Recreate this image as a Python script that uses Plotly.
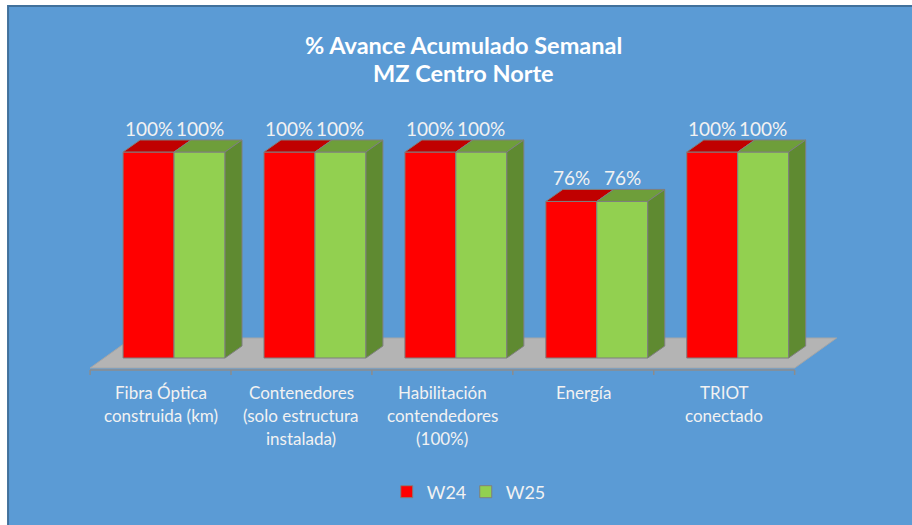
import plotly.graph_objects as go

# ---------------- data ----------------
categories = [
    "Fibra Óptica\nconstruida (km)",
    "Contenedores\n(solo estructura\ninstalada)",
    "Habilitación\ncontendedores\n(100%)",
    "Energía",
    "TRIOT\nconectado",
]
series_names = ["W24", "W25"]
w24 = [100, 100, 100, 76, 100]
w25 = [100, 100, 100, 76, 100]
title_lines = ["% Avance Acumulado Semanal", "MZ Centro Norte"]

# ---------------- styling ----------------
W, H = 912, 525
BLUE = "#5B9BD5"
TXT = "#F2F2F2"
FONT = "Lato"
front_cols = ["#FF0000", "#92D050"]
top_cols = ["#C00000", "#6E9E3A"]
side_cols = ["#5F8A31", "#5F8A31"]
EDGE = "#7F7F7F"

# pixel geometry of plot area
L_PX, R_PX = 76.0, 844.5          # x range [-0.6, 4.85] -> 141 px per category
T_PX, B_PX = 100.0, 380.0
XR = [-0.6, 4.85]
PPX = (R_PX - L_PX) / (XR[1] - XR[0])
PPY = 2.06                         # px per percent
BASE_PX = 358.0
YR = [-(B_PX - BASE_PX) / PPY, (BASE_PX - T_PX) / PPY]

DX = 17 / PPX                      # depth offset of 3D faces
DY = 12 / PPY
bar_w = 51 / PPX
offsets = [-37.5 / PPX, (-37.5 + 51) / PPX]


def ypx(py):
    """pixel row -> y data value"""
    return (BASE_PX - py) / PPY


def py_paper(py):
    """pixel row -> paper y"""
    return (B_PX - py) / (B_PX - T_PX)


def px_paper(px):
    return (px - L_PX) / (R_PX - L_PX)


fig = go.Figure()
xs = list(range(len(categories)))
for s, (name, vals) in enumerate(zip(series_names, [w24, w25])):
    fig.add_trace(go.Bar(
        x=xs, y=vals, name=name, width=bar_w, offset=offsets[s],
        marker=dict(color=front_cols[s], line=dict(color=EDGE, width=1)),
        hoverinfo="skip",
    ))

shapes = []
# blue panel background
shapes.append(dict(type="rect", xref="paper", yref="paper",
                   x0=px_paper(8), x1=px_paper(W + 5),
                   y0=py_paper(H + 5), y1=py_paper(6),
                   fillcolor=BLUE, line=dict(color="#41719C", width=2), layer="below"))
# floor
fy0, fy1 = ypx(368), ypx(338)
fdx = 42 / PPX
shapes.append(dict(type="path", xref="x", yref="y", layer="below",
                   path=f"M -0.5,{fy0} L 4.5,{fy0} L {4.5+fdx},{fy1} L {-0.5+fdx},{fy1} Z",
                   fillcolor="#B4B4B4", line=dict(color="#A6A6A6", width=1)))
# axis line + ticks
ay = ypx(370)
shapes.append(dict(type="line", xref="x", yref="y", x0=-0.5, x1=4.5, y0=ay, y1=ay,
                   line=dict(color="#8C8C8C", width=1.5), layer="below"))
for k in range(len(categories) + 1):
    shapes.append(dict(type="line", xref="x", yref="y", x0=k - 0.5, x1=k - 0.5,
                       y0=ay, y1=ypx(375), line=dict(color="#8C8C8C", width=1.5),
                       layer="below"))

annotations = []
for s, vals in enumerate([w24, w25]):
    for i, v in enumerate(vals):
        x0 = i + offsets[s]
        x1 = x0 + bar_w
        shapes.append(dict(type="path", xref="x", yref="y", layer="above",
                           path=f"M {x0},{v} L {x1},{v} L {x1+DX},{v+DY} L {x0+DX},{v+DY} Z",
                           fillcolor=top_cols[s], line=dict(color=EDGE, width=1)))
        if s == len(series_names) - 1:
            shapes.append(dict(type="path", xref="x", yref="y", layer="above",
                               path=f"M {x1},0 L {x1+DX},{DY} L {x1+DX},{v+DY} L {x1},{v} Z",
                               fillcolor=side_cols[s], line=dict(color=EDGE, width=1)))
        annotations.append(dict(x=(x0 + x1) / 2, y=v, xref="x", yref="y",
                                text=f"{v}%", showarrow=False, yshift=24,
                                font=dict(family=FONT, size=19, color=TXT)))

# category labels (one annotation per line)
for i, c in enumerate(categories):
    for j, line in enumerate(c.split("\n")):
        annotations.append(dict(x=i, xref="x", y=py_paper(392 + 23 * j), yref="paper",
                                text=line, showarrow=False, yanchor="middle",
                                font=dict(family=FONT, size=17, color=TXT)))

# title
for j, t in enumerate(title_lines):
    annotations.append(dict(x=px_paper(464), xref="paper",
                            y=py_paper(45 + 28 * j), yref="paper", yanchor="middle",
                            text=f"<b>{t}</b>", showarrow=False,
                            font=dict(family=FONT, size=23.5, color="#FFFFFF")))

fig.update_layout(
    width=W, height=H,
    margin=dict(l=L_PX, r=W - R_PX, t=T_PX, b=H - B_PX, pad=0, autoexpand=False),
    paper_bgcolor="#FFFFFF", plot_bgcolor="rgba(0,0,0,0)",
    barmode="overlay",
    xaxis=dict(range=XR, visible=False, fixedrange=True),
    yaxis=dict(range=YR, visible=False, fixedrange=True),
    shapes=shapes, annotations=annotations,
    showlegend=True,
    legend=dict(orientation="h", xref="paper", yref="paper",
                x=px_paper(466), xanchor="center",
                y=py_paper(492), yanchor="middle",
                font=dict(family=FONT, size=18, color=TXT),
                bgcolor="rgba(0,0,0,0)", itemwidth=30, entrywidth=34,
                traceorder="normal"),
)

fig.write_html("out.html", config={"displayModeBar": False},
               post_script="document.body.style.margin='0px';document.body.style.overflow='hidden';")
